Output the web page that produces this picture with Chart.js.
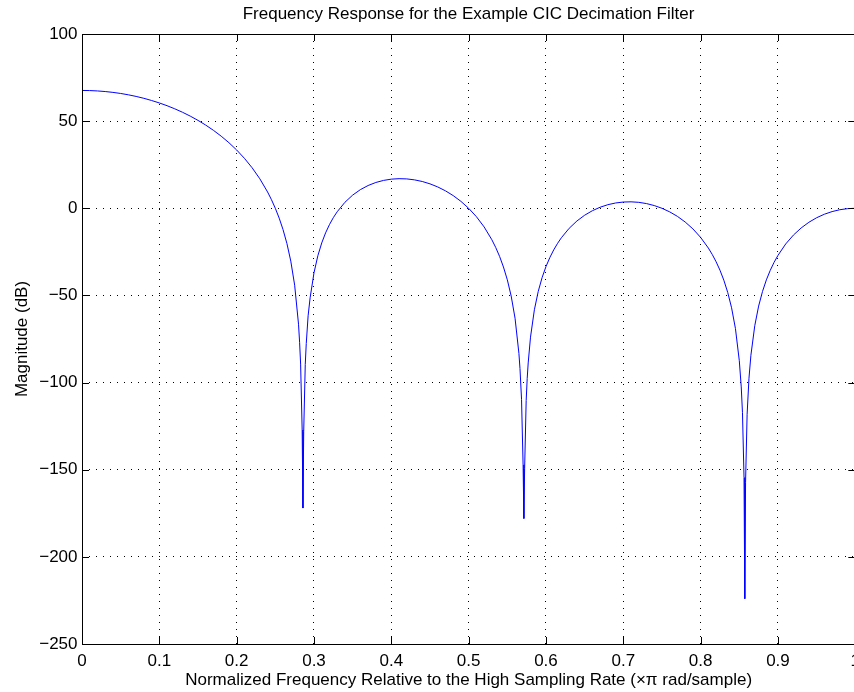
<!DOCTYPE html>
<html>
<head>
<meta charset="utf-8">
<script src="https://cdn.jsdelivr.net/npm/chart.js@4.4.0/dist/chart.umd.min.js"></script>
<style>
  html, body { margin: 0; padding: 0; background: #fff; overflow: hidden; }
  #wrap { width: 854px; height: 692px; overflow: hidden; }
</style>
</head>
<body>
<div id="wrap"><canvas id="myChart" width="937" height="692"></canvas></div>
<script>
// normalized frequency (x pi rad/sample)
const freqs = [0, 0.01, 0.02, 0.03, 0.04, 0.05, 0.06, 0.07, 0.08, 0.09, 0.10, 0.11, 0.12, 0.13, 0.14, 0.15, 0.16, 0.17,
  0.18, 0.19, 0.20, 0.21, 0.22, 0.23, 0.24, 0.245, 0.25, 0.255, 0.26, 0.265, 0.27, 0.275, 0.28, 0.2814, 0.2827, 0.2847,
  0.2857, 0.2867, 0.2887, 0.29, 0.2924, 0.295, 0.30, 0.305, 0.31, 0.315, 0.32, 0.325, 0.33, 0.34, 0.35, 0.36, 0.37, 0.38,
  0.39, 0.40, 0.41, 0.42, 0.43, 0.44, 0.45, 0.46, 0.47, 0.48, 0.49, 0.50, 0.51, 0.52, 0.53, 0.535, 0.54, 0.545, 0.55,
  0.555, 0.56, 0.565, 0.5664, 0.5684, 0.5704, 0.5714, 0.5724, 0.5744, 0.5757, 0.577, 0.58, 0.585, 0.59, 0.595, 0.60,
  0.605, 0.61, 0.615, 0.62, 0.63, 0.64, 0.65, 0.66, 0.67, 0.68, 0.69, 0.70, 0.71, 0.72, 0.73, 0.74, 0.75, 0.76, 0.77,
  0.78, 0.79, 0.80, 0.81, 0.815, 0.82, 0.825, 0.83, 0.835, 0.84, 0.845, 0.85, 0.8525, 0.8541, 0.8561, 0.8571, 0.8581,
  0.8601, 0.8625, 0.865, 0.87, 0.875, 0.88, 0.885, 0.89, 0.895, 0.90, 0.91, 0.92, 0.93, 0.94, 0.95, 0.96, 0.97, 0.98,
  0.99, 1.0];
// magnitude in dB
const magDb = [67.61, 67.54, 67.33, 66.99, 66.50, 65.88, 65.10, 64.18, 63.10, 61.84, 60.44, 58.85, 57.07, 55.09, 52.88, 50.44, 47.73, 44.72,
  41.37, 37.63, 33.44, 28.69, 23.24, 16.91, 9.35, 4.95, 0, -5.66, -12.27, -20.24, -30.31, -44.13, -66.50, -76.9, -89.4, -127.2,
  -172, -128.2, -89.6, -77.63, -61.7, -51.36, -37.02, -27.24, -19.90, -14.10, -9.35, -5.37, -1.99, 3.44, 7.56, 10.70, 13.07, 14.81,
  16.00, 16.72, 16.99, 16.85, 16.31, 15.37, 14.02, 12.25, 10.02, 7.29, 3.98, 0, -4.81, -10.69, -18.05, -22.49, -27.61, -33.68, -41.03,
  -50.36, -63.10, -83.25, -92.0, -109.6, -147.2, -178, -149.2, -110.3, -97.7, -88.74, -73.93, -58.23, -47.67, -39.73, -33.44,
  -28.25, -23.88, -20.12, -16.86, -11.48, -7.29, -3.98, -1.39, 0.60, 2.06, 3.04, 3.58, 3.70, 3.41, 2.70, 1.57, 0, -2.06, -4.65,
  -7.88, -11.83, -16.72, -22.83, -26.49, -30.68, -35.53, -41.27, -48.25, -57.07, -69.02, -87.46, -102.5, -117.3, -154.5, -224, -157.2,
  -118.2, -97.5, -84.34, -67.36, -56.11, -47.73, -41.08, -35.61, -30.99, -27.01, -20.48, -15.37, -11.29, -8.03, -5.43, -3.41, -1.89, -0.83,
  -0.21, 0];

const xTicks = [0, 0.1, 0.2, 0.3, 0.4, 0.5, 0.6, 0.7, 0.8, 0.9, 1];
const yTicks = [-250, -200, -150, -100, -50, 0, 50, 100];

const FONT = {family: '"Liberation Sans", Arial, Helvetica, sans-serif', size: 17};
const fmt = v => (v < 0 ? '\u2212' : '') + Math.abs(v);

// matlab style inward ticks + box
const boxTicks = {
  id: 'boxTicks',
  afterDraw(chart) {
    const {ctx, chartArea: a, scales} = chart;
    const len = 7;
    ctx.save();
    ctx.strokeStyle = '#000';
    ctx.lineWidth = 1;
    ctx.beginPath();
    xTicks.forEach(v => {
      const px = Math.round(scales.x.getPixelForValue(v)) + 0.5;
      ctx.moveTo(px, a.bottom); ctx.lineTo(px, a.bottom - len);
      ctx.moveTo(px, a.top); ctx.lineTo(px, a.top + len);
    });
    yTicks.forEach(v => {
      const py = Math.round(scales.y.getPixelForValue(v)) + 0.5;
      ctx.moveTo(a.left, py); ctx.lineTo(a.left + len, py);
      ctx.moveTo(a.right, py); ctx.lineTo(a.right - len, py);
    });
    ctx.stroke();
    ctx.strokeRect(Math.round(a.left) + 0.5, Math.round(a.top) + 0.5,
      Math.round(a.right - a.left), Math.round(a.bottom - a.top));
    ctx.restore();
  }
};

new Chart(document.getElementById('myChart').getContext('2d'), {
  type: 'scatter',
  data: {
    datasets: [{
      data: freqs.map((f, i) => ({x: f, y: magDb[i]})),
      showLine: true,
      borderColor: '#0000ff',
      borderWidth: 1,
      pointRadius: 0,
      tension: 0,
      fill: false
    }]
  },
  options: {
    responsive: false,
    animation: false,
    devicePixelRatio: 1,
    layout: {padding: 0},
    plugins: {
      legend: {display: false},
      tooltip: {enabled: false},
      title: {
        display: true,
        text: 'Frequency Response for the Example CIC Decimation Filter',
        color: '#000',
        font: {...FONT, weight: 'normal'},
        padding: {top: 4.3, bottom: 9.3}
      }
    },
    scales: {
      x: {
        type: 'linear',
        position: 'bottom',
        min: 0,
        max: 1,
        afterBuildTicks: s => { s.ticks = xTicks.map(v => ({value: v})); },
        afterFit: s => { s.height = 48; },
        ticks: {color: '#000', font: FONT, padding: 6.8, maxRotation: 0, autoSkip: false, callback: v => fmt(v)},
        grid: {color: '#000', lineWidth: 1, drawTicks: false},
        border: {display: false, dash: [1, 6]},
        title: {
          display: true,
          text: 'Normalized Frequency Relative to the High Sampling Rate (\u00d7\u03c0 rad/sample)',
          color: '#000',
          font: FONT,
          padding: {top: 0, bottom: 1.8}
        }
      },
      y: {
        type: 'linear',
        position: 'left',
        min: -250,
        max: 100,
        afterBuildTicks: s => { s.ticks = yTicks.map(v => ({value: v})); },
        afterFit: s => { s.width = 82; },
        ticks: {color: '#000', font: FONT, padding: 4.5, autoSkip: false, callback: v => fmt(v)},
        grid: {color: '#000', lineWidth: 1, drawTicks: false},
        border: {display: false, dash: [1, 6]},
        title: {
          display: true,
          text: 'Magnitude (dB)',
          color: '#000',
          font: FONT,
          padding: {top: 11.8, bottom: 0}
        }
      },
      yR: {
        position: 'right',
        display: true,
        afterFit: s => { s.width = 81.7; },
        ticks: {display: false},
        grid: {display: false},
        border: {display: false}
      }
    }
  },
  plugins: [boxTicks]
});
</script>
</body>
</html>
